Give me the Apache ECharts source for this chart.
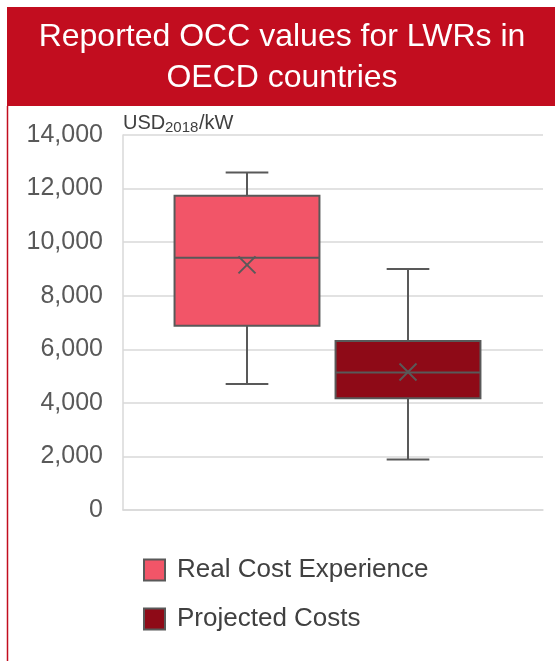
<!DOCTYPE html>
<html>
<head>
<meta charset="utf-8">
<script src="https://cdn.jsdelivr.net/npm/echarts@6/dist/echarts.min.js"></script>
<style>
html,body{margin:0;padding:0;background:#fff;}
#chart{width:555px;height:661px;}
</style>
</head>
<body>
<div id="chart"></div>
<script>
// Data
const titleText = 'Reported OCC values for LWRs in\nOECD countries';
const categories = ['Real Cost Experience', 'Projected Costs'];
const yTicks = [0, 2000, 4000, 6000, 8000, 10000, 12000, 14000];
// [min, Q1, median, Q3, max, mean]
const realCost = [4700, 6880, 9420, 11730, 12600, 9150];
const projectedCost = [1890, 4170, 5130, 6310, 9000, 5150];
const boxColors = ['#f25568', '#8e0a17'];

const chart = echarts.init(document.getElementById('chart'), null, {renderer: 'canvas'});
const FONT = '"Liberation Sans", Arial, sans-serif';
const STROKE = '#595959';

function renderBox(params, api) {
  const x = api.value(0);
  const lo = api.coord([x, api.value(1)]);
  const q1 = api.coord([x, api.value(2)]);
  const md = api.coord([x, api.value(3)]);
  const q3 = api.coord([x, api.value(4)]);
  const hi = api.coord([x, api.value(5)]);
  const mn = api.coord([x, api.value(6)]);
  const band = api.size([1, 0])[0];
  const bw = band * 0.9;
  const cw = band * 0.265;
  const cx = q1[0];
  const m = 8.5;
  const ls = {stroke: STROKE, lineWidth: 2};
  return {
    type: 'group',
    children: [
      {type: 'line', shape: {x1: cx, y1: hi[1], x2: cx, y2: q3[1]}, style: ls},
      {type: 'line', shape: {x1: cx - cw / 2, y1: hi[1], x2: cx + cw / 2, y2: hi[1]}, style: ls},
      {type: 'line', shape: {x1: cx, y1: q1[1], x2: cx, y2: lo[1]}, style: ls},
      {type: 'line', shape: {x1: cx - cw / 2, y1: lo[1], x2: cx + cw / 2, y2: lo[1]}, style: ls},
      {type: 'rect', shape: {x: cx - bw / 2, y: q3[1], width: bw, height: q1[1] - q3[1]},
        style: {fill: api.visual('color'), stroke: STROKE, lineWidth: 2}},
      {type: 'line', shape: {x1: cx - bw / 2, y1: md[1], x2: cx + bw / 2, y2: md[1]}, style: ls},
      {type: 'line', shape: {x1: cx - m, y1: mn[1] - m, x2: cx + m, y2: mn[1] + m}, style: ls},
      {type: 'line', shape: {x1: cx - m, y1: mn[1] + m, x2: cx + m, y2: mn[1] - m}, style: ls}
    ]
  };
}

const option = {
  backgroundColor: '#ffffff',
  animation: false,
  textStyle: {fontFamily: FONT},
  graphic: [
    {type: 'rect', shape: {x: 7, y: 7, width: 560, height: 99}, style: {fill: '#c20d1f'}, z: 0},
    {type: 'line', shape: {x1: 7.5, y1: 106, x2: 7.5, y2: 661}, style: {stroke: '#c20d1f', lineWidth: 1.5}},
    {type: 'text', x: 282, y: 58, style: {text: titleText, fill: '#ffffff', font: '32px ' + FONT,
      textAlign: 'center', textVerticalAlign: 'middle', lineHeight: 41}},
    {type: 'text', x: 123, y: 133, style: {text: 'USD', fill: '#404040', font: '20px ' + FONT, textAlign: 'left', textVerticalAlign: 'bottom'}},
    {type: 'text', x: 165, y: 135, style: {text: '2018', fill: '#404040', font: '15px ' + FONT, textAlign: 'left', textVerticalAlign: 'bottom'}},
    {type: 'text', x: 199, y: 133, style: {text: '/kW', fill: '#404040', font: '20px ' + FONT, textAlign: 'left', textVerticalAlign: 'bottom'}}
  ],
  legend: {
    orient: 'vertical',
    left: 143,
    top: 557,
    padding: 0,
    itemWidth: 21,
    itemHeight: 21,
    itemGap: 23,
    icon: 'rect',
    textStyle: {fontSize: 26, color: '#404040', fontFamily: FONT, padding: [0, 0, 0, 7]},
    data: categories.map((c, i) => ({name: c, itemStyle: {color: boxColors[i], borderColor: STROKE, borderWidth: 2}}))
  },
  grid: [
    {left: 123, top: 135, width: 420, height: 375},
    {left: 166.5, top: 135, width: 322, height: 375}
  ],
  xAxis: [
    {gridIndex: 0, type: 'category', data: [''], axisLine: {show: true, lineStyle: {color: '#d9d9d9', width: 1.5}},
      axisTick: {show: false}, axisLabel: {show: false}},
    {gridIndex: 1, type: 'category', data: categories, show: false}
  ],
  yAxis: [
    {gridIndex: 0, type: 'value', min: 0, max: 14000, interval: 2000,
      axisLine: {show: true, lineStyle: {color: '#d9d9d9', width: 1.5}},
      axisTick: {show: false},
      splitLine: {show: true, lineStyle: {color: '#d9d9d9', width: 1.5}},
      axisLabel: {fontSize: 25, color: '#595959', margin: 20, fontFamily: FONT,
        formatter: v => yTicks.includes(v) ? v.toLocaleString('en-US') : ''}},
    {gridIndex: 1, type: 'value', min: 0, max: 14000, interval: 2000, show: false}
  ],
  series: [
    {name: categories[0], type: 'custom', xAxisIndex: 1, yAxisIndex: 1, renderItem: renderBox,
      itemStyle: {color: boxColors[0]}, data: [[0].concat(realCost)], z: 5},
    {name: categories[1], type: 'custom', xAxisIndex: 1, yAxisIndex: 1, renderItem: renderBox,
      itemStyle: {color: boxColors[1]}, data: [[1].concat(projectedCost)], z: 5}
  ]
};
chart.setOption(option);
</script>
</body>
</html>
